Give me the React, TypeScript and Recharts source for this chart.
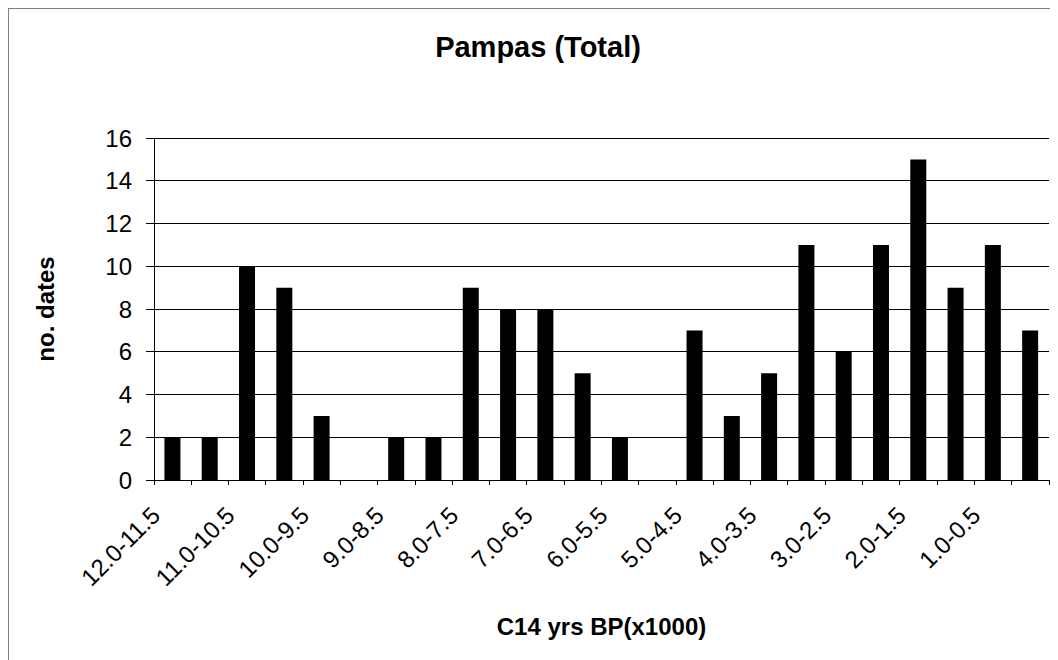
import React from 'react'
import { Bar, BarChart, CartesianGrid, Label, XAxis, YAxis } from 'recharts'

const categories = [
  '12.0-11.5', '11.5-11.0', '11.0-10.5', '10.5-10.0', '10.0-9.5', '9.5-9.0',
  '9.0-8.5', '8.5-8.0', '8.0-7.5', '7.5-7.0', '7.0-6.5', '6.5-6.0',
  '6.0-5.5', '5.5-5.0', '5.0-4.5', '4.5-4.0', '4.0-3.5', '3.5-3.0',
  '3.0-2.5', '2.5-2.0', '2.0-1.5', '1.5-1.0', '1.0-0.5', '0.5-0.0'
]
const counts = [2, 2, 10, 9, 3, 0, 2, 2, 9, 8, 8, 5, 2, 0, 7, 3, 5, 11, 6, 11, 15, 9, 11, 7]
const yTicks = [0, 2, 4, 6, 8, 10, 12, 14, 16]

const data = categories.map((period, i) => ({ period, dates: counts[i] }))

const FONT = '"Liberation Sans", Arial, sans-serif'
const W = 1049
const H = 651
const MARGIN = { top: 129, right: 9, bottom: 0, left: 0 }
const Y_AXIS_W = 145
const X_AXIS_H = 180
const BAND = (W - MARGIN.left - MARGIN.right - Y_AXIS_W) / categories.length

// tick marks sit on category boundaries, labels only on every other category
function XTick(props: any) {
  const { x, y, payload } = props
  const idx = payload.index ?? props.index
  const half = BAND / 2
  const last = idx === categories.length - 1
  return (
    <g>
      <line x1={x - half} x2={x - half} y1={y} y2={y + 5} stroke="#000" shapeRendering="crispEdges" />
      {last && (
        <line x1={x + half} x2={x + half} y1={y} y2={y + 5} stroke="#000" shapeRendering="crispEdges" />
      )}
      {idx % 2 === 0 && (
        <text
          transform={`translate(${x - 11} ${y + 37}) rotate(-45)`}
          textAnchor="end"
          fontSize={24}
          fontFamily={FONT}
          fill="#000"
        >
          {payload.value}
        </text>
      )}
    </g>
  )
}

export default function App() {
  return (
    <div
      style={{
        position: 'relative',
        width: W,
        height: H,
        borderLeft: '1px solid #808080',
        borderTop: '1px solid #808080',
        background: '#fff'
      }}
    >
      <div
        style={{
          position: 'absolute',
          left: 9,
          top: 24,
          width: 1040,
          textAlign: 'center',
          fontFamily: FONT,
          fontSize: 29,
          lineHeight: '28px',
          fontWeight: 'bold',
          color: '#000'
        }}
      >
        Pampas (Total)
      </div>
      <BarChart width={W} height={H} data={data} margin={MARGIN} barCategoryGap="28%">
        <CartesianGrid vertical={false} stroke="#000" shapeRendering="crispEdges" />
        <XAxis
          dataKey="period"
          height={X_AXIS_H}
          interval={0}
          tickLine={false}
          tickSize={0}
          tickMargin={0}
          axisLine={{ stroke: '#000', shapeRendering: 'crispEdges' }}
          tick={<XTick />}
        >
          <Label
            content={({ viewBox }: any) => (
              <text
                x={viewBox.x + viewBox.width / 2}
                y={viewBox.y + 155}
                textAnchor="middle"
                fontSize={24}
                fontWeight="bold"
                fontFamily={FONT}
                fill="#000"
              >
                C14 yrs BP(x1000)
              </text>
            )}
          />
        </XAxis>
        <YAxis
          width={Y_AXIS_W}
          domain={[0, 16]}
          ticks={yTicks}
          interval={0}
          tickSize={8}
          tickMargin={14}
          axisLine={{ stroke: '#000', shapeRendering: 'crispEdges' }}
          tickLine={{ stroke: '#000', shapeRendering: 'crispEdges' }}
          tick={{ fontSize: 24, fontFamily: FONT, fill: '#000' }}
        >
          <Label
            content={({ viewBox }: any) => (
              <text
                transform={`translate(36 ${viewBox.y + viewBox.height / 2}) rotate(-90)`}
                textAnchor="middle"
                dominantBaseline="central"
                fontSize={24}
                fontWeight="bold"
                fontFamily={FONT}
                fill="#000"
              >
                no. dates
              </text>
            )}
          />
        </YAxis>
        <YAxis
          yAxisId="frame"
          orientation="right"
          width={0}
          domain={[0, 16]}
          tick={false}
          tickLine={false}
          axisLine={{ stroke: '#808080', shapeRendering: 'crispEdges' }}
        />
        <Bar dataKey="dates" fill="#000" isAnimationActive={false} />
      </BarChart>
    </div>
  )
}
